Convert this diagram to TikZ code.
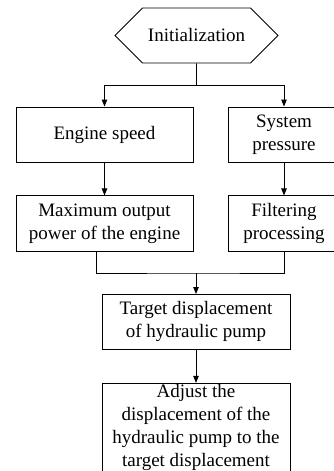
\documentclass[tikz,border=0pt]{standalone}
\usepackage{fontspec}
\setmainfont{Liberation Serif}
\usetikzlibrary{arrows.meta,positioning,shapes.symbols}

\begin{document}
\begin{tikzpicture}[
  x=1pt, y=-1pt,
  node distance=33pt,
  box/.style={draw, line width=0.9pt, minimum height=55pt, inner sep=1pt,
              align=center, font=\fontsize{19}{23}\selectfont},
  start/.style={box, shape=signal, signal to=west and east,
                signal pointer angle=90},
  flow/.style={-{Triangle[length=7pt,width=5.5pt]}, line width=0.9pt},
  link/.style={line width=0.9pt}
]
\useasboundingbox (0,0) rectangle (333,471);
\node[start, minimum width=163pt] (init) at (196.5,35.5) {Initialization};
\node[box, minimum width=177pt] (speed) at (104.5,134.5) {Engine speed};
\node[box, minimum width=112pt] (pressure) at (284,134.5) {System\\pressure};
\node[box, minimum width=177pt, minimum height=56pt, below=of speed] (maxpow)
  {Maximum output\\power of the engine};
\node[box, minimum width=112pt, minimum height=56pt, below=of pressure] (filter)
  {Filtering\\processing};
\coordinate (split) at (196.5,85);
\coordinate (merge) at (196,273);
\node[box, minimum width=188pt, below=21pt of merge] (target)
  {Target displacement\\of hydraulic pump};
\node[box, minimum width=188pt, minimum height=85pt, below=of target] (adjust)
  {Adjust the\\displacement of the\\hydraulic pump to the\\target displacement};

\draw[link] (init) -- (split);
\draw[flow] (split) -| (speed);
\draw[flow] (split) -| (pressure);
\draw[flow] (speed) -- (maxpow);
\draw[flow] (pressure) -- (filter);
\draw[link] ([xshift=-8pt]maxpow.south) |- (merge) -| (filter.south);
\draw[flow] (merge) -- (target);
\draw[flow] (target) -- (adjust);
\end{tikzpicture}
\end{document}
